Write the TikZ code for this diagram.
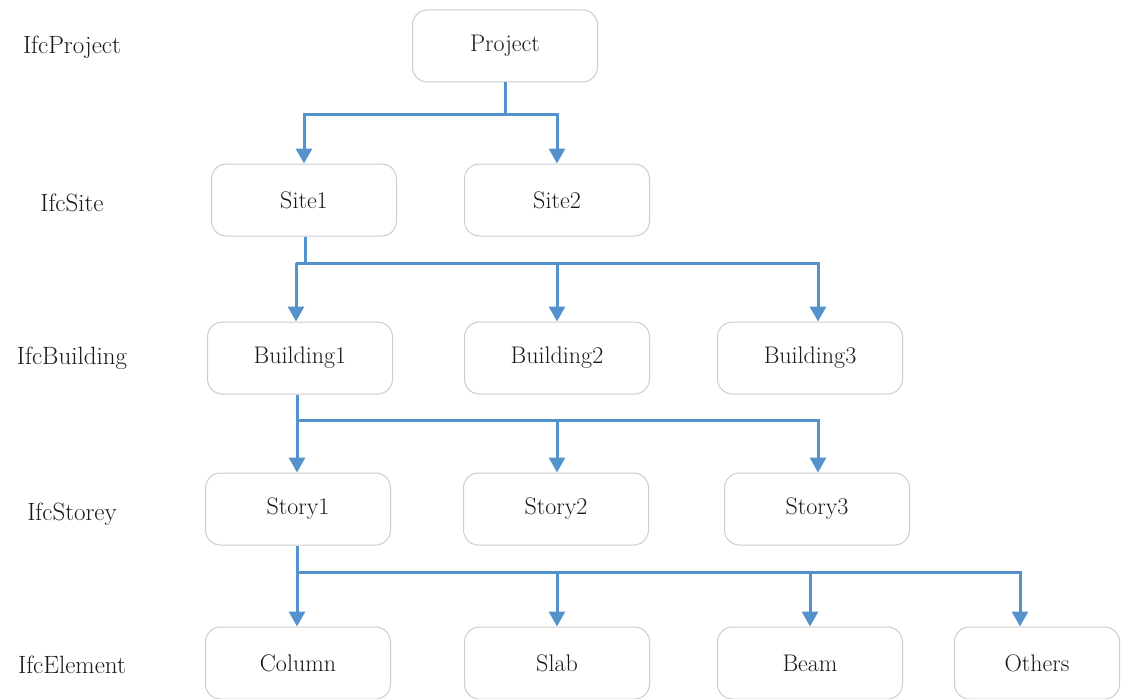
\documentclass[tikz,border=0pt]{standalone}
\usetikzlibrary{arrows.meta,calc}
\definecolor{linkblue}{RGB}{84,146,204}
\definecolor{boxline}{RGB}{205,205,205}
\definecolor{txt}{RGB}{25,25,25}
\begin{document}
\begin{tikzpicture}[x=1pt,y=-1pt,
  box/.style={draw=boxline, line width=1pt, rounded corners=15pt, minimum width=185pt, minimum height=72pt, fill=white, text=txt, font=\fontsize{24}{28}\selectfont},
  lvl/.style={text=txt, font=\fontsize{25}{29}\selectfont},
  conn/.style={draw=linkblue, line width=3pt},
  arr/.style={conn, -{Triangle[width=16pt,length=15pt]}}]
\useasboundingbox (0,0) rectangle (1131,698);
\fill[white] (0,0) rectangle (1131,698);

% level labels
\node[lvl] (lp) at (72,47) {IfcProject};
\node[lvl] (ls) at (72,203) {IfcSite};
\node[lvl] (lb) at (72,358) {IfcBuilding};
\node[lvl] (lst) at (72,514) {IfcStorey};
\node[lvl] (le) at (72,665) {IfcElement};

% boxes
\node[box] (proj) at (505,46) {Project};
\node[box] (site1) at (304,200) {Site1};
\node[box] (site2) at (557,200) {Site2};
\node[box] (b1) at (300,358) {Building1};
\node[box] (b2) at (557,358) {Building2};
\node[box] (b3) at (810,358) {Building3};
\node[box] (s1) at (298,509) {Story1};
\node[box] (s2) at (556,509) {Story2};
\node[box] (s3) at (817,509) {Story3};
\node[box] (col) at (298,663) {Column};
\node[box] (slab) at (557,663) {Slab};
\node[box] (beam) at (810,663) {Beam};
\node[box, minimum width=165pt] (oth) at (1037,663) {Others};

% junction coordinates
\coordinate (j0) at (505,115);
\coordinate (j1) at (305,263);
\coordinate (h1) at (296,263);
\coordinate (h2) at (297,420);
\coordinate (h3) at (297,572);

% Project -> Sites
\draw[conn] (proj.south) -- (j0);
\draw[arr] (j0) -| (site1.north);
\draw[arr] (j0) -| (site2.north);

% Site1 -> Buildings
\draw[conn] ([xshift=1pt]site1.south) -- (j1);
\draw[conn] (h1) -- (j1);
\draw[arr] (h1) -- ([xshift=-4pt]b1.north);
\draw[arr] (h1) -| (b2.north);
\draw[arr] (h1) -| ([xshift=8pt]b3.north);

% Building1 -> Stories
\draw[conn] ([xshift=-3pt]b1.south) -- (h2);
\draw[arr] (h2) -- ([xshift=-1pt]s1.north);
\draw[arr] (h2) -| ([xshift=1pt]s2.north);
\draw[arr] (h2) -| ([xshift=1pt]s3.north);

% Story1 -> Elements
\draw[conn] ([xshift=-1pt]s1.south) -- (h3);
\draw[arr] (h3) -- ([xshift=-1pt]col.north);
\draw[arr] (h3) -| (slab.north);
\draw[arr] (h3) -| (beam.north);
\draw[arr] (h3) -| ([xshift=-17pt]oth.north);
\end{tikzpicture}
\end{document}
